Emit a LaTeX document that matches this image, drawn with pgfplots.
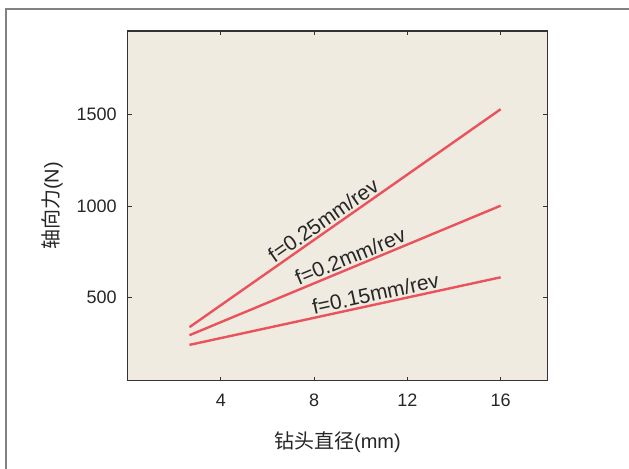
\documentclass[border=0pt]{standalone}
\usepackage{pgfplots}
\pgfplotsset{compat=1.18}
\usepackage{fontspec}
\setmainfont{Liberation Sans}
\newfontfamily\cjk{Noto Sans CJK SC}
\definecolor{bgc}{RGB}{239,235,225}
\definecolor{linec}{RGB}{234,82,92}
\definecolor{framec}{RGB}{130,130,130}
\begin{document}
\begin{tikzpicture}[x=1pt,y=1pt]
\path[use as bounding box] (0,0) rectangle (314.5,234);
\draw[framec, line width=0.9pt] (3,-10) rectangle (330,229.5);
\begin{axis}[
  at={(63.85pt,43.65pt)}, anchor=south west,
  scale only axis, width=209.8pt, height=174.85pt,
  xmin=0, xmax=18, ymin=44, ymax=1958,
  xtick={4,8,12,16}, ytick={500,1000,1500},
  tick align=inside, major tick length=2pt,
  axis background/.style={fill=bgc},
  axis line style={draw=black!80, line width=0.6pt},
  tick style={draw=black!80, line width=0.5pt},
  font=\fontsize{9pt}{10pt}\selectfont,
  ticklabel style={font=\fontsize{9pt}{10pt}\selectfont, text=black!85},
  /pgf/number format/assume math mode=true,
  /pgf/number format/1000 sep={},
  xticklabel style={yshift=-3pt},
  yticklabel style={xshift=-2pt},
  xlabel={\cjk 钻头直径\normalfont(mm)},
  ylabel={\cjk 轴向力\normalfont(N)},
  label style={font=\fontsize{10pt}{11pt}\selectfont, text=black!85},
  xlabel style={yshift=-5.5pt},
  ylabel style={yshift=0pt},
  clip=false,
]
\addplot[linec, line width=1.2pt] coordinates {(2.65,337) (16,1530)}
  node[pos=0.45, sloped, above, inner sep=1pt, font=\fontsize{10.5pt}{11pt}\selectfont, text=black!85] {f=0.25mm/rev};
\addplot[linec, line width=1.2pt] coordinates {(2.65,293) (16,1002)}
  node[pos=0.53, sloped, above, inner sep=1pt, font=\fontsize{10.5pt}{11pt}\selectfont, text=black!85] {f=0.2mm/rev};
\addplot[linec, line width=1.2pt] coordinates {(2.65,240) (16,610)}
  node[pos=0.605, sloped, above, inner sep=1pt, font=\fontsize{10.5pt}{11pt}\selectfont, text=black!85] {f=0.15mm/rev};
\end{axis}
\end{tikzpicture}
\end{document}
